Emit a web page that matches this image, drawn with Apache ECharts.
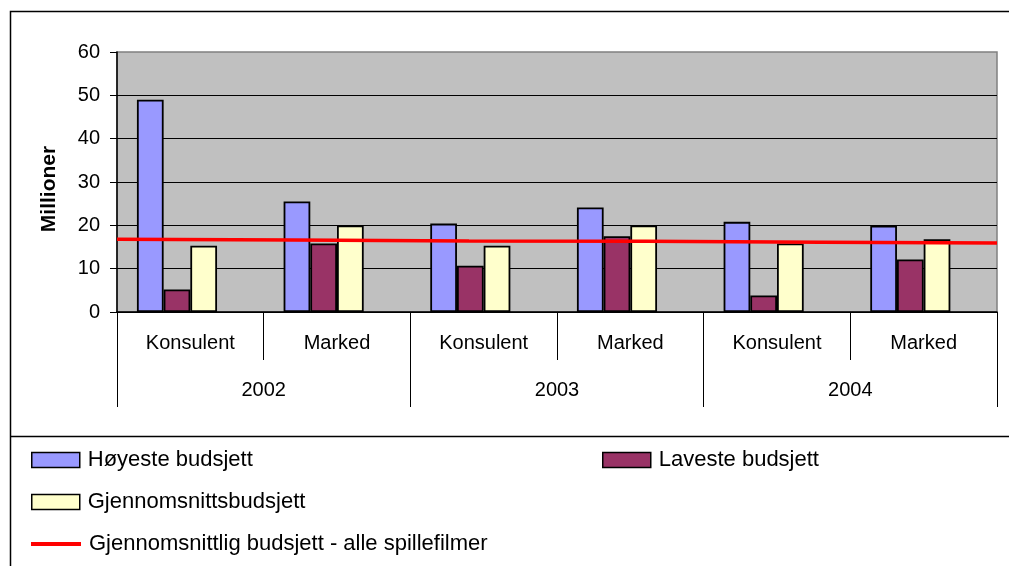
<!DOCTYPE html>
<html>
<head>
<meta charset="utf-8">
<script src="https://cdn.jsdelivr.net/npm/echarts@6/dist/echarts.min.js"></script>
<style>html,body{margin:0;padding:0;background:#fff}#c{width:1009px;height:566px}</style>
</head>
<body>
<div id="c"></div>
<script>
const categories = ['Konsulent', 'Marked', 'Konsulent', 'Marked', 'Konsulent', 'Marked'];
const years = ['2002', '2003', '2004'];
const yTicks = { min: 0, max: 60, interval: 10 };
const hoyeste = [49, 25.5, 20.4, 24.1, 20.8, 19.9];
const laveste = [5.2, 15.8, 10.7, 17.5, 3.8, 12.1];
const gjennomsnitt = [15.3, 20.0, 15.3, 20.0, 15.8, 16.8];
const alleFilmer = [16.8, 16.6, 16.4, 16.3, 16.1, 15.9];
const names = ['Høyeste budsjett', 'Laveste budsjett', 'Gjennomsnittsbudsjett', 'Gjennomsnittlig budsjett - alle spillefilmer'];
const emptySlot = ['-', '-', '-', '-', '-', '-'];

const FONT = '"Liberation Sans", Arial, sans-serif';
const chart = echarts.init(document.getElementById('c'), null, { renderer: 'canvas' });

const legendBase = (name, left, top, extra) => Object.assign({
  data: [name], left: left, top: top, orient: 'horizontal', padding: 0, icon: 'rect',
  itemWidth: 48, itemHeight: 15,
  textStyle: { fontFamily: FONT, fontSize: 22, color: '#000', padding: [0, 0, 0, 3] },
  itemStyle: { borderColor: '#000', borderWidth: 1.5 }
}, extra || {});

chart.setOption({
  backgroundColor: '#fff',
  animation: false,
  graphic: [
    { type: 'rect', shape: { x: 10.5, y: 11.5, width: 1100, height: 700 }, style: { fill: 'none', stroke: '#000', lineWidth: 1.5 }, z: 0 },
    { type: 'line', shape: { x1: 10, y1: 436.5, x2: 1009, y2: 436.5 }, style: { stroke: '#000', lineWidth: 1.5 }, z: 0 }
  ],
  grid: {
    left: 117, right: 12, top: 52, bottom: 254,
    show: true, backgroundColor: '#C0C0C0', borderColor: '#808080', borderWidth: 1.5
  },
  legend: [
    legendBase(names[0], 31, 449),
    legendBase(names[1], 602, 449),
    legendBase(names[2], 31, 491),
    legendBase(names[3], 31, 533, { itemWidth: 50, itemHeight: 4, itemStyle: { borderWidth: 0 } })
  ],
  xAxis: [
    {
      type: 'category', data: categories, position: 'bottom', gridIndex: 0,
      axisLine: { show: true, lineStyle: { color: '#000', width: 1.5 } },
      axisTick: { show: true, length: 48, interval: 0, lineStyle: { color: '#000', width: 1 } },
      axisLabel: { fontFamily: FONT, fontSize: 20, color: '#000', margin: 21, interval: 0 },
      splitLine: { show: false }
    },
    {
      type: 'category', data: years, position: 'bottom', gridIndex: 0,
      axisLine: { show: false },
      axisTick: { show: true, length: 95, interval: 0, lineStyle: { color: '#000', width: 1 } },
      axisLabel: { fontFamily: FONT, fontSize: 20, color: '#000', margin: 68, interval: 0 },
      splitLine: { show: false }
    },
    {
      type: 'category', data: categories, position: 'top', gridIndex: 0, boundaryGap: false, show: false
    }
  ],
  yAxis: {
    type: 'value', min: yTicks.min, max: yTicks.max, interval: yTicks.interval,
    name: 'Millioner', nameLocation: 'middle', nameGap: 57,
    nameTextStyle: { fontFamily: FONT, fontSize: 21, fontWeight: 'bold', color: '#000', padding: [0, 14, 0, 0] },
    axisLine: { show: true, lineStyle: { color: '#000', width: 1.5 } },
    axisTick: { show: true, length: 7, lineStyle: { color: '#000', width: 1 } },
    axisLabel: { fontFamily: FONT, fontSize: 20, color: '#000', margin: 17 },
    splitLine: { show: true, showMaxLine: false, lineStyle: { color: '#000', width: 1 } }
  },
  series: [
    { name: names[0], type: 'bar', xAxisIndex: 0, data: hoyeste, barWidth: 26.7, barGap: '0%', barCategoryGap: '27%',
      itemStyle: { color: '#9999FF', borderColor: '#000', borderWidth: 1.8 } },
    { name: names[1], type: 'bar', xAxisIndex: 0, data: laveste, barWidth: 26.7, barGap: '0%',
      itemStyle: { color: '#993366', borderColor: '#000', borderWidth: 1.8 } },
    { name: names[2], type: 'bar', xAxisIndex: 0, data: gjennomsnitt, barWidth: 26.7, barGap: '0%',
      itemStyle: { color: '#FFFFCC', borderColor: '#000', borderWidth: 1.8 } },
    { name: 'slot', type: 'bar', xAxisIndex: 0, data: emptySlot, barWidth: 26.7, barGap: '0%', silent: true },
    { name: names[3], type: 'line', xAxisIndex: 2, data: alleFilmer, symbol: 'none', z: 5,
      lineStyle: { color: '#FF0000', width: 3.5 }, itemStyle: { color: '#FF0000' } }
  ]
});
</script>
</body>
</html>
